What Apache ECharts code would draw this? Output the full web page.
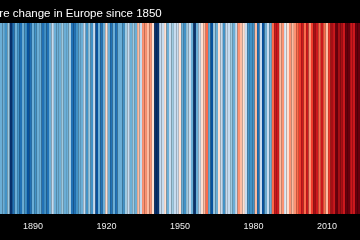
<!DOCTYPE html>
<html>
<head>
<meta charset="utf-8">
<script src="https://cdn.jsdelivr.net/npm/echarts@6/dist/echarts.min.js"></script>
<style>
html,body{margin:0;padding:0;background:#000;}
#chart{width:360px;height:240px;}
</style>
</head>
<body>
<div id="chart"></div>
<script>
// Years visible in the picture
var firstYear = 1877;
var lastYear = 2023;
// Temperature anomaly (°C, estimated from stripe colours), one per year from 1877
var anomalies = [
  -0.2, -0.3, -0.45, -0.15, -1.0, -0.6, -0.25, -0.35, -0.5, -0.2,   // 1877-1886
  -0.4, -0.85, -0.5, -0.2, -0.35, -0.3, -0.2, -0.6, -0.35, -0.6,    // 1887-1896
  -0.3, -0.05, -0.2, -0.2,                                           // 1897-1900
  -0.2, -0.15, -0.2, -0.3, -0.15, -0.5, -0.6, -0.45, -0.25, -0.3,   // 1901-1910
  -0.1, -0.4, -0.15, -0.35, -0.1, -0.8, -0.2, -0.5, -0.2, 0.05,     // 1911-1920
  -0.2, -0.5, -0.3, -0.5, -0.2,                                      // 1921-1925
  -0.2, -0.4, -0.15, -0.05, -0.3, -0.15, -0.3, 0.15, -0.05, 0.3,    // 1926-1935
  0.25, 0.1, 0.3, 0.05, -1.0, -0.9, -0.1, -0.1, 0.0, -0.2,          // 1936-1945
  -0.1, -0.15, -0.05, -0.05,                                         // 1946-1949
  0.05, -0.2, -0.35, -0.15, -0.1, -0.2, -1.0, -0.25, -0.1, 0.03,    // 1950-1959
  0.15, 0.4, -0.2, -0.7, -0.15, -0.2, 0.0, -0.1, -0.45, -0.1,       // 1960-1969
  -0.1, -0.15, -0.25, -0.05,                                         // 1970-1973
  0.25, 0.15, 0.0, -0.05, -0.45, -0.4, -0.35, 0.1, -0.5, -0.1,      // 1974-1983
  -0.85, -0.3, -0.05, -0.25, 0.4, 0.8, 0.7, 0.15, 0.35, -0.02,      // 1984-1993
  0.05, 0.35, 0.1, 0.3, 0.4,                                         // 1994-1998
  0.6, 0.8, 0.5, 0.7, 0.35, 0.6, 0.9, 0.75, 0.5, 0.7,               // 1999-2008
  0.5, 0.15, 0.65, 0.9, 0.7, 1.15, 1.0, 0.95, 0.85, 1.2,            // 2009-2018
  1.2, 0.85, 0.8, 1.1, 1.2                                           // 2019-2023
];
// Colour scale: lower bound of each class and its colour
var classBounds = [-99, -0.85, -0.65, -0.45, -0.3, -0.18, -0.1, -0.04, 0, 0.1, 0.22, 0.37, 0.52, 0.7, 0.9, 1.1, 99];
var stripeColors = ['#08306b','#08519c','#2171b5','#4292c6','#6baed6','#9ecae1','#c6dbef','#deebf7',
                    '#fee0d2','#fcbba1','#fc9272','#fb6a4a','#ef3b2c','#cb181d','#a50f15','#67000d'];
var titleText = 'Temperature change in Europe since 1850';

var years = [];
for (var y = firstYear; y <= lastYear; y++) years.push(String(y));
var data = years.map(function (yr, i) { return [yr, 1, anomalies[i]]; });
var pieces = stripeColors.map(function (c, i) {
  return { gte: classBounds[i], lt: classBounds[i + 1], color: c };
});

var chart = echarts.init(document.getElementById('chart'));
chart.setOption({
  backgroundColor: '#000',
  animation: false,
  title: {
    text: titleText,
    left: -60,
    top: 3,
    textStyle: { color: '#fff', fontSize: 11.5, fontWeight: 'normal', fontFamily: 'Liberation Sans' }
  },
  grid: { left: -0.3, width: 362.6, top: 23, bottom: 26 },
  xAxis: {
    type: 'category',
    data: years,
    axisLine: { show: false },
    axisTick: { show: false },
    splitLine: { show: false },
    axisLabel: {
      color: '#eeeeee', fontSize: 9, fontFamily: 'Liberation Sans', margin: 8,
      interval: function (idx, val) { return Number(val) % 30 === 0; }
    }
  },
  yAxis: { type: 'value', min: 0, max: 1, show: false },
  visualMap: {
    show: false, type: 'piecewise', dimension: 2,
    pieces: pieces
  },
  series: [{
    type: 'bar',
    data: data,
    encode: { x: 0, y: 1 },
    barCategoryGap: '0%',
    barWidth: '101%',
    itemStyle: { borderWidth: 0 }
  }]
});
</script>
</body>
</html>
